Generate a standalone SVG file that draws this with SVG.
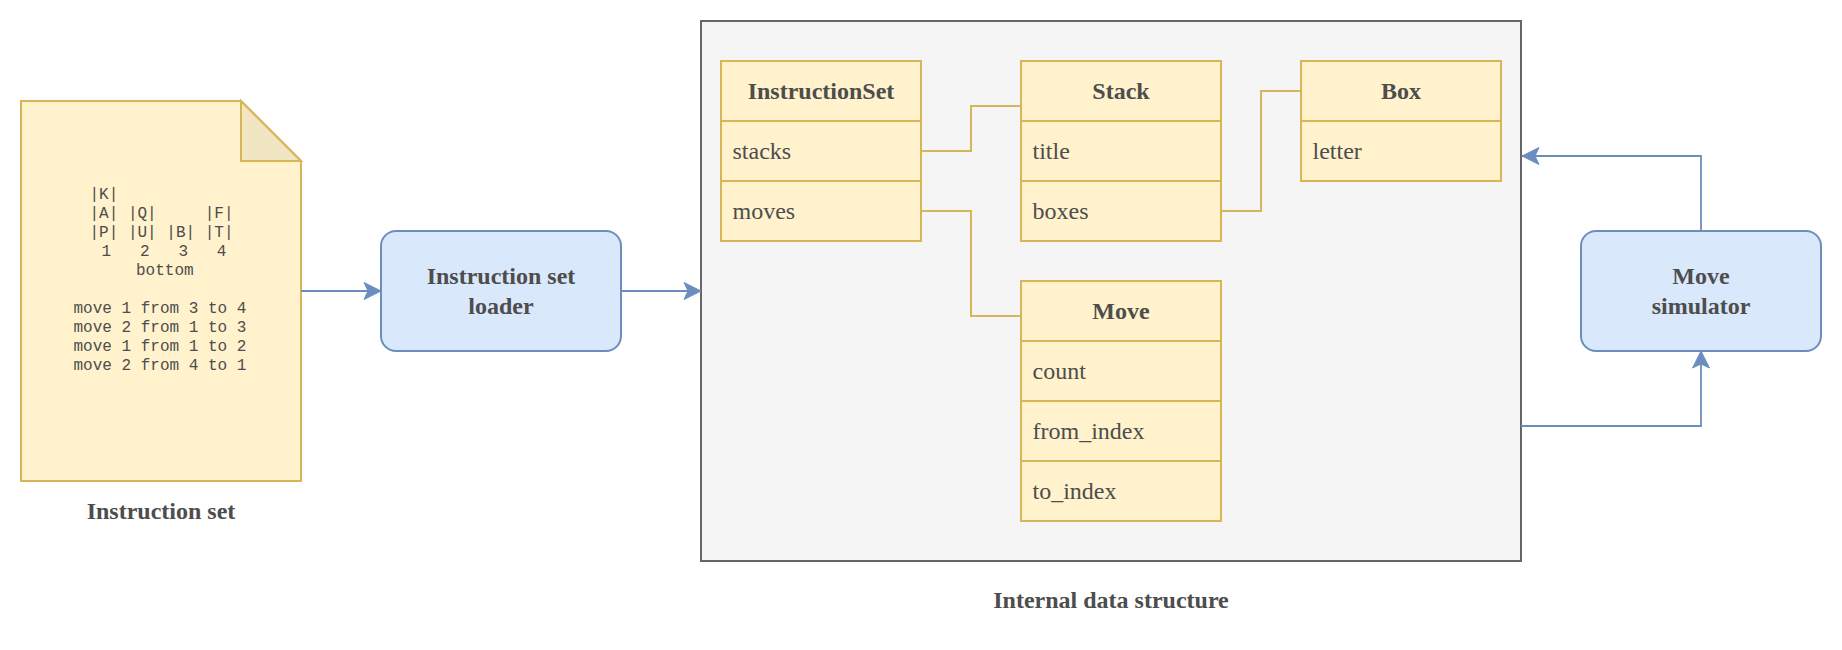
<svg xmlns="http://www.w3.org/2000/svg" width="1842" height="650" viewBox="0 0 1842 650">
<style>
.t{font-family:"Liberation Serif","Times New Roman",serif;font-size:24px;fill:#4d4d4d;dominant-baseline:central}
.b{font-weight:bold;text-anchor:middle}
.m{font-family:"Liberation Mono","Courier New",monospace;font-size:16px;fill:#4d4d4d;dominant-baseline:central}
.y{fill:#fff2cc;stroke:#d6b656;stroke-width:2}
.sep{stroke:#d6b656;stroke-width:2}
.blue{fill:#dae8fc;stroke:#6c8ebf;stroke-width:2}
.yc{fill:none;stroke:#d6b656;stroke-width:2}
.bc{fill:none;stroke:#6c8ebf;stroke-width:1.8}
</style>
<defs>
<marker id="arr" markerUnits="userSpaceOnUse" viewBox="-18 -10 20 20" markerWidth="20" markerHeight="20" refX="0" refY="0" orient="auto">
<path d="M-17,-8.5 L0,0 L-17,8.5 L-13,0 Z" fill="#6c8ebf" stroke="#6c8ebf" stroke-width="1"/>
</marker>
</defs>
<rect width="1842" height="650" fill="#ffffff"/>

<g id="container">
<rect x="701" y="21" width="820" height="540" fill="#f5f5f5" stroke="#666666" stroke-width="2"/>
<text class="t b" x="1111" y="600">Internal data structure</text>
</g>

<g id="instruction-set-doc">
<path d="M21,101 H241 L301,161 V481 H21 Z" fill="#fff2cc" stroke="#d6b656" stroke-width="2"/>
<path d="M241,101 V161 H301 Z" fill="#f2e5c2" stroke="#d6b656" stroke-width="2" stroke-linejoin="miter"/>
<text class="m" xml:space="preserve" x="89.5" y="195">|K|</text>
<text class="m" xml:space="preserve" x="89.5" y="214">|A| |Q|     |F|</text>
<text class="m" xml:space="preserve" x="89.5" y="233">|P| |U| |B| |T|</text>
<text class="m" xml:space="preserve" x="92" y="252"> 1   2   3   4</text>
<text class="m" xml:space="preserve" x="136" y="271">bottom</text>
<text class="m" xml:space="preserve" x="73.5" y="309">move 1 from 3 to 4</text>
<text class="m" xml:space="preserve" x="73.5" y="328">move 2 from 1 to 3</text>
<text class="m" xml:space="preserve" x="73.5" y="347">move 1 from 1 to 2</text>
<text class="m" xml:space="preserve" x="73.5" y="366">move 2 from 4 to 1</text>
<text class="t b" x="161" y="511">Instruction set</text>
</g>

<g id="loader">
<rect class="blue" x="381" y="231" width="240" height="120" rx="15" ry="15"/>
<text class="t b" x="501" y="276">Instruction set</text>
<text class="t b" x="501" y="306">loader</text>
</g>

<g id="simulator">
<rect class="blue" x="1581" y="231" width="240" height="120" rx="15" ry="15"/>
<text class="t b" x="1701" y="276">Move</text>
<text class="t b" x="1701" y="306">simulator</text>
</g>

<g id="InstructionSet">
<rect class="y" x="721" y="61" width="200" height="180"/>
<line class="sep" x1="721" y1="121" x2="921" y2="121"/>
<line class="sep" x1="721" y1="181" x2="921" y2="181"/>
<text class="t b" x="821" y="91">InstructionSet</text>
<text class="t" x="732.5" y="151">stacks</text>
<text class="t" x="732.5" y="211">moves</text>
</g>

<g id="Stack">
<rect class="y" x="1021" y="61" width="200" height="180"/>
<line class="sep" x1="1021" y1="121" x2="1221" y2="121"/>
<line class="sep" x1="1021" y1="181" x2="1221" y2="181"/>
<text class="t b" x="1121" y="91">Stack</text>
<text class="t" x="1032.5" y="151">title</text>
<text class="t" x="1032.5" y="211">boxes</text>
</g>

<g id="Box">
<rect class="y" x="1301" y="61" width="200" height="120"/>
<line class="sep" x1="1301" y1="121" x2="1501" y2="121"/>
<text class="t b" x="1401" y="91">Box</text>
<text class="t" x="1312.5" y="151">letter</text>
</g>

<g id="Move">
<rect class="y" x="1021" y="281" width="200" height="240"/>
<line class="sep" x1="1021" y1="341" x2="1221" y2="341"/>
<line class="sep" x1="1021" y1="401" x2="1221" y2="401"/>
<line class="sep" x1="1021" y1="461" x2="1221" y2="461"/>
<text class="t b" x="1121" y="311">Move</text>
<text class="t" x="1032.5" y="371">count</text>
<text class="t" x="1032.5" y="431">from_index</text>
<text class="t" x="1032.5" y="491">to_index</text>
</g>

<g id="connectors">
<path class="yc" d="M921,151 H971 V106 H1021"/>
<path class="yc" d="M921,211 H971 V316 H1020"/>
<path class="yc" d="M1221,211 H1261 V91 H1301"/>
<path class="bc" d="M301,291 H381" marker-end="url(#arr)"/>
<path class="bc" d="M621,291 H701" marker-end="url(#arr)"/>
<path class="bc" d="M1701,231 V156 H1522" marker-end="url(#arr)"/>
<path class="bc" d="M1521,426 H1701 V351" marker-end="url(#arr)"/>
</g>
</svg>
